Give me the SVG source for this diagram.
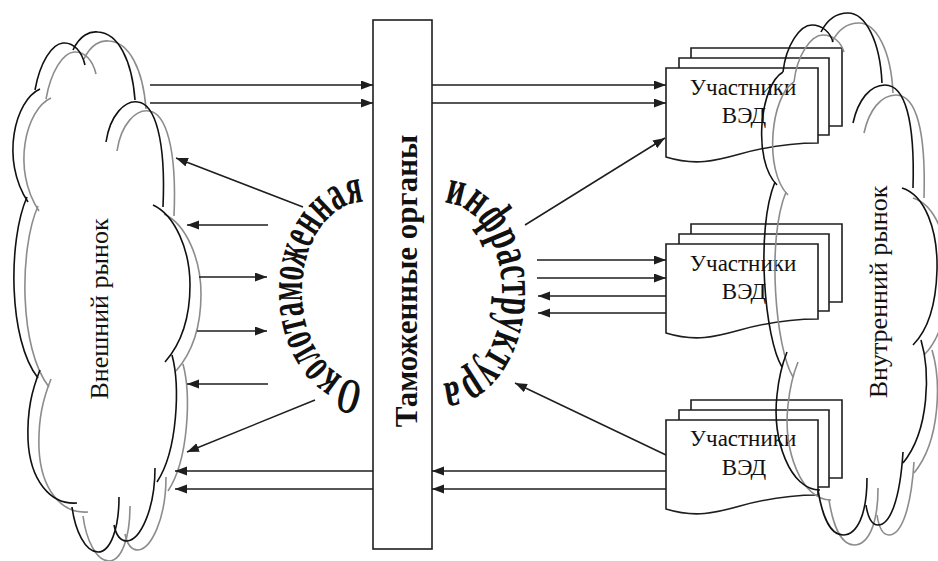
<svg xmlns="http://www.w3.org/2000/svg" width="938" height="561" viewBox="0 0 938 561">
<defs>
<style>
.ln{stroke:#1e1e1e;stroke-width:1.5;fill:none}
.ar{stroke:#1e1e1e;stroke-width:1.5;fill:none;marker-end:url(#ah)}
.cb{stroke:#111;stroke-width:1.6;fill:none}
.cg{stroke:#8c8c8c;stroke-width:1.6;fill:none}
.box{stroke:#1e1e1e;stroke-width:1.6;fill:#fff}
.t{font-family:'Liberation Serif','DejaVu Serif',serif;fill:#111}
.arc{font-family:'Liberation Serif','DejaVu Serif',serif;font-weight:bold;font-size:50px;fill:#111}
</style>
<marker id="ah" markerWidth="13" markerHeight="10" refX="12" refY="4.5" orient="auto" markerUnits="userSpaceOnUse">
<path d="M0,0 L12,4.5 L0,9 z" fill="#1e1e1e"/>
</marker>
<g id="cloudL">
<path d="M35,90 C40,62 52,44 63,43 C74,42 82,52 85,65"/>
<path d="M73,50 C80,35 90,31 98,32 C118,33 132,60 135,100"/>
<path d="M106,142 C110,115 125,100 138,102 C155,104 166,140 163,207"/>
<path d="M153,205 C175,215 190,250 190,285 C190,320 180,345 165,362"/>
<path d="M172,355 C180,385 178,450 157,482"/>
<path d="M155,468 C155,510 140,540 127,541 C120,541 116,535 114,525"/>
<path d="M119,497 C119,530 110,552 98,552 C85,552 75,530 72,507"/>
<path d="M77,503 C50,505 30,480 28,440 C27,410 32,390 40,370"/>
<path d="M27,197 C8,240 8,340 38,378"/>
<path d="M40,89 C15,100 0,160 28,202"/>
</g>
<g id="cloudR">
<path d="M783,72 C786,45 800,25 812,25 C822,25 830,32 833,42"/>
<path d="M821,32 C828,18 838,13 848,13 C865,13 880,40 882,83"/>
<path d="M853,123 C858,100 870,85 885,85 C905,85 915,120 913,188"/>
<path d="M902,188 C925,195 938,230 937,270 C936,305 928,330 913,345"/>
<path d="M921,340 C930,370 930,430 903,463"/>
<path d="M903,452 C900,500 890,525 878,525 C872,525 868,518 866,505"/>
<path d="M867,478 C867,515 857,535 843,535 C830,535 822,515 818,490"/>
<path d="M820,490 C790,490 772,440 777,395 C779,375 783,362 787,352"/>
<path d="M782,367 C765,340 755,230 775,182"/>
<path d="M783,72 C760,85 752,160 777,185"/>
</g>
<path id="arcL" d="M364,382 A62,90 0 0 1 364,202"/>
<path id="arcR" d="M444,203 A58,90 0 0 1 444,383"/>
</defs>

<g id="external-market">
<use href="#cloudL" class="cg" transform="translate(11,9)"/>
<use href="#cloudL" class="cb"/>
<text class="t" font-family="Liberation Serif, DejaVu Serif, serif" font-size="26" text-anchor="middle" transform="translate(108,309) rotate(-90)">Внешний рынок</text>
</g>

<g id="customs">
<rect class="box" x="373" y="20" width="59" height="529"/>
<text class="t" font-family="Liberation Serif, DejaVu Serif, serif" font-size="31" font-weight="bold" text-anchor="middle" transform="translate(417,281) rotate(-90)">Таможенные органы</text>
</g>

<g id="arc-left">
<text class="arc" font-family="Liberation Serif, DejaVu Serif, serif"><textPath href="#arcL" textLength="240" lengthAdjust="spacingAndGlyphs">Околотаможенная</textPath></text>
</g>
<g id="arc-right">
<text class="arc" font-family="Liberation Serif, DejaVu Serif, serif"><textPath href="#arcR" textLength="236" lengthAdjust="spacingAndGlyphs">инфраструктура</textPath></text>
</g>

<g id="ved1">
<path class="box" d="M691,58 L691,48 L842,48 L842,126 L829,126"/>
<path class="box" d="M679,68 L679,58 L829,58 L829,135 L818,135"/>
<path class="box" d="M666,68 L818,68 L818,143 C790,143 765,147 740,154 C715,161 695,166 666,157 Z"/>
<text class="t" font-family="Liberation Serif, DejaVu Serif, serif" font-size="23" text-anchor="middle" x="743" y="95">Участники</text>
<text class="t" font-family="Liberation Serif, DejaVu Serif, serif" font-size="23" text-anchor="middle" x="744" y="123">ВЭД</text>
</g>
<g id="ved2">
<path class="box" d="M691,234 L691,224 L842,224 L842,302 L829,302"/>
<path class="box" d="M679,244 L679,234 L829,234 L829,311 L818,311"/>
<path class="box" d="M666,244 L818,244 L818,319 C790,319 765,323 740,330 C715,337 695,342 666,333 Z"/>
<text class="t" font-family="Liberation Serif, DejaVu Serif, serif" font-size="23" text-anchor="middle" x="743" y="271">Участники</text>
<text class="t" font-family="Liberation Serif, DejaVu Serif, serif" font-size="23" text-anchor="middle" x="744" y="299">ВЭД</text>
</g>
<g id="ved3">
<path class="box" d="M691,410 L691,400 L842,400 L842,478 L829,478"/>
<path class="box" d="M679,420 L679,410 L829,410 L829,487 L818,487"/>
<path class="box" d="M666,420 L818,420 L818,495 C790,495 765,499 740,506 C715,513 695,518 666,509 Z"/>
<text class="t" font-family="Liberation Serif, DejaVu Serif, serif" font-size="23" text-anchor="middle" x="743" y="446">Участники</text>
<text class="t" font-family="Liberation Serif, DejaVu Serif, serif" font-size="23" text-anchor="middle" x="744" y="475">ВЭД</text>
</g>

<g id="internal-market">
<use href="#cloudR" class="cg" transform="translate(11,10)"/>
<use href="#cloudR" class="cb"/>
<text class="t" font-family="Liberation Serif, DejaVu Serif, serif" font-size="26" text-anchor="middle" transform="translate(887,292) rotate(-90)">Внутренний рынок</text>
</g>

<g id="connectors">
<line class="ar" x1="150" y1="85" x2="373" y2="85"/>
<line class="ar" x1="150" y1="103" x2="373" y2="103"/>
<line class="ar" x1="432" y1="85" x2="666" y2="85"/>
<line class="ar" x1="432" y1="103" x2="666" y2="103"/>
<line class="ar" x1="525" y1="225" x2="665" y2="138"/>
<line class="ar" x1="303" y1="207" x2="176" y2="158"/>
<line class="ar" x1="268" y1="225" x2="187" y2="225"/>
<line class="ar" x1="199" y1="277" x2="267" y2="277"/>
<line class="ar" x1="197" y1="331" x2="267" y2="331"/>
<line class="ar" x1="268" y1="384" x2="187" y2="384"/>
<line class="ar" x1="315" y1="400" x2="187" y2="452"/>
<line class="ar" x1="373" y1="471" x2="175" y2="471"/>
<line class="ar" x1="373" y1="489" x2="175" y2="489"/>
<line class="ar" x1="666" y1="471" x2="432" y2="471"/>
<line class="ar" x1="666" y1="489" x2="432" y2="489"/>
<line class="ar" x1="537" y1="260" x2="666" y2="260"/>
<line class="ar" x1="537" y1="278" x2="666" y2="278"/>
<line class="ar" x1="666" y1="296" x2="538" y2="296"/>
<line class="ar" x1="666" y1="313" x2="538" y2="313"/>
<line class="ar" x1="666" y1="455" x2="515" y2="383"/>
</g>
</svg>
